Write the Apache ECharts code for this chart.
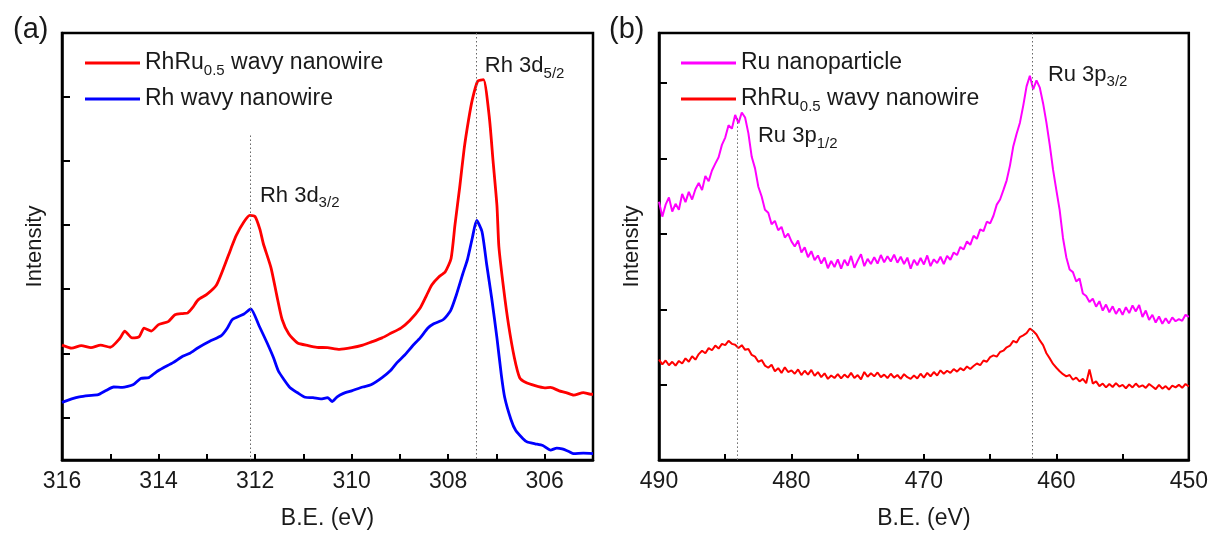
<!DOCTYPE html>
<html><head><meta charset="utf-8">
<script src="https://cdn.jsdelivr.net/npm/echarts@6/dist/echarts.min.js"></script>
<style>html,body{margin:0;padding:0;background:#fff}#c{width:1211px;height:535px}</style>
</head><body><div id="c"></div>
<script>
const FONT = '"Liberation Sans", Arial, Helvetica, sans-serif';
const TXT = '#1a1a1a';

// ---- Panel (a): Rh 3d ----
const xTicksA = [316, 314, 312, 310, 308, 306];
const energyRedA = [316.0,315.8,315.6,315.4,315.2,315.0,314.8,314.7,314.55,314.4,314.3,314.15,314.0,313.8,313.66,313.5,313.4,313.3,313.18,313.0,312.8,312.63,312.5,312.39,312.23,312.11,312.0,311.9,311.83,311.67,311.55,311.44,311.3,311.12,310.9,310.72,310.5,310.25,310.0,309.77,309.6,309.37,309.2,308.98,308.8,308.58,308.45,308.34,308.2,308.06,307.94,307.86,307.76,307.67,307.58,307.5,307.39,307.27,307.15,307.07,306.99,306.95,306.85,306.75,306.63,306.52,306.4,306.2,306.0,305.88,305.7,305.56,305.4,305.2,305.05,305.0];
const redA = [26.9,26.2,26.8,26.3,26.9,26.4,28.5,30.2,28.6,28.9,30.9,30.2,31.7,32.4,34.0,34.3,34.4,35.6,37.5,38.8,41.0,45.6,49.5,52.6,55.8,57.3,57.0,54.0,50.7,45.0,38.5,32.9,29.5,27.4,26.8,26.4,26.3,25.9,26.3,26.9,27.6,28.6,29.6,30.9,32.6,35.6,38.5,41.0,42.8,44.1,47.2,55.0,64.0,72.8,79.5,84.4,88.7,89.1,80.5,70.0,59.6,50.0,40.0,31.7,24.0,19.3,18.2,17.4,16.9,17.0,16.2,15.8,15.2,15.8,15.4,15.4];
const energyBlueA = [316.0,315.8,315.64,315.45,315.25,315.1,314.93,314.75,314.53,314.37,314.2,314.05,313.9,313.7,313.5,313.35,313.18,312.94,312.7,312.58,312.47,312.23,312.09,311.92,311.75,311.62,311.52,311.4,311.28,311.1,310.96,310.8,310.64,310.5,310.4,310.3,310.17,310.0,309.77,309.6,309.37,309.2,309.06,308.9,308.74,308.58,308.42,308.3,308.1,307.95,307.83,307.7,307.6,307.5,307.41,307.3,307.2,307.1,306.99,306.9,306.83,306.7,306.6,306.45,306.36,306.2,306.04,305.88,305.75,305.64,305.5,305.4,305.2,305.0];
const blueA = [13.5,14.3,14.8,15.1,15.3,16.2,17.1,17.0,17.6,19.1,19.3,20.6,21.6,22.8,24.3,25.0,26.3,27.8,29.1,30.8,32.9,34.2,35.4,31.5,27.4,24.0,20.9,18.8,17.0,15.6,14.7,14.6,14.3,14.6,13.7,14.8,15.6,16.2,17.1,17.6,19.3,20.9,22.8,24.6,26.7,28.6,30.9,31.9,32.9,35.0,38.7,43.5,47.0,52.0,56.1,53.5,45.6,38.0,28.6,20.0,14.7,9.5,6.9,5.0,4.2,3.8,3.4,2.3,2.8,2.6,2.0,1.5,1.6,1.5];
const yTicksA = [10, 25, 40, 55, 70, 85, 100];
const peakLinesA = [[312.11, 76], [307.41, 100]];

// ---- Panel (b): Ru 3p ----
const xTicksB = [490, 480, 470, 460, 450];
const energyStartB = 490, energyStepB = 0.25; // sampling grid of the spectra below
const magentaB = [60.5,57.0,59.8,61.5,58.2,60.0,58.6,62.3,60.4,62.8,61.0,63.4,64.9,63.2,66.5,65.3,67.8,69.4,70.9,73.8,75.5,78.4,77.6,80.8,78.9,81.4,80.2,76.5,71.0,68.3,64.0,61.7,58.6,57.9,55.2,56.0,53.8,54.6,52.1,53.0,51.2,50.0,51.4,48.6,49.8,47.5,48.9,46.8,47.9,46.0,47.4,44.9,46.6,45.2,47.0,44.8,46.9,45.5,47.8,45.0,46.7,48.2,45.4,47.1,45.9,47.5,46.0,48.0,46.3,47.7,46.5,48.1,46.2,47.6,45.9,47.4,44.8,46.9,45.6,47.3,45.8,47.9,45.4,47.0,46.1,47.6,45.9,47.8,46.9,48.6,48.0,49.9,49.3,51.2,50.4,52.5,51.8,54.0,53.6,55.8,55.4,57.2,59.8,61.0,63.2,65.5,69.0,73.5,76.4,79.0,83.0,87.5,90.0,86.8,88.9,87.2,83.5,79.0,73.8,68.0,63.2,58.5,52.0,47.5,44.6,44.0,41.8,42.5,39.0,38.4,37.0,37.8,35.9,37.2,35.0,36.4,34.6,36.0,34.2,35.5,34.0,35.8,34.4,36.2,34.8,36.3,33.5,35.0,32.8,34.0,32.2,33.6,31.9,33.2,32.0,33.4,32.5,33.0,32.6,34.0,33.5];
const redB = [23.5,22.4,23.3,22.2,23.0,22.1,23.2,22.6,23.8,23.0,24.3,23.5,24.8,25.6,25.0,26.2,25.7,26.8,26.1,27.2,26.9,27.9,27.2,27.0,26.2,26.9,25.8,26.0,24.6,24.2,23.0,23.4,22.1,21.6,22.3,20.8,21.5,20.4,21.7,20.6,21.0,20.2,21.2,19.9,20.9,20.0,21.1,19.7,20.6,19.4,20.3,19.0,19.8,19.2,20.1,19.1,20.0,19.3,20.4,19.2,19.9,18.9,20.6,19.5,20.3,19.6,20.5,19.4,20.0,19.2,20.2,19.3,19.9,19.0,20.1,19.4,19.0,19.8,19.1,20.2,19.3,20.4,19.6,20.6,19.8,21.0,20.2,20.9,20.4,21.3,20.7,21.5,21.0,21.9,21.3,22.0,22.6,22.2,23.3,23.0,24.1,24.5,24.2,25.3,25.6,26.4,26.8,27.9,27.5,28.8,29.2,29.7,30.8,30.2,29.4,28.0,26.9,25.0,23.8,22.5,21.6,20.8,20.1,19.6,19.9,18.8,19.3,18.4,19.0,18.0,21.2,17.9,18.4,17.3,17.9,17.0,17.8,17.1,18.0,17.2,17.6,16.8,17.7,17.0,17.9,17.1,17.5,16.9,17.8,17.2,16.6,17.6,16.7,17.3,16.5,17.4,17.0,17.6,16.9,17.8,17.2];
const yTicksB = [0, 17.7, 35.3, 53, 70.6, 88.3];
const peakLinesB = [[484.1, 80], [461.85, 100]];

const NAME_RR = 'RhRu0.5 wavy nanowire';
const NAME_RH = 'Rh wavy nanowire';
const NAME_RU = 'Ru nanoparticle';

function pairs(xs, ys) { return xs.map((x, i) => [x, ys[i]]); }
function gridPairs(start, step, ys) { return ys.map((y, i) => [+(start - step * i).toFixed(2), y]); }

const rich = {
  m: { fontSize: 23, fontFamily: FONT, color: TXT, lineHeight: 30, verticalAlign: 'middle' },
  s: { fontSize: 15, fontFamily: FONT, color: TXT, lineHeight: 15, verticalAlign: 'bottom' }
};
const annRich = {
  m: { fontSize: 22, fontFamily: FONT, color: TXT, lineHeight: 30, verticalAlign: 'middle' },
  s: { fontSize: 15, fontFamily: FONT, color: TXT, lineHeight: 15, verticalAlign: 'bottom' }
};
function legendFmt(name) {
  if (name === NAME_RR) return '{m|RhRu}{s|0.5}{m| wavy nanowire}';
  return '{m|' + name + '}';
}

function xAxisCfg(gi, min, max, interval, labelEvery) {
  return {
    type: 'value', gridIndex: gi, min: min, max: max, interval: interval, inverse: true,
    name: 'B.E. (eV)', nameLocation: 'middle', nameGap: 47,
    nameTextStyle: { fontSize: 23, fontFamily: FONT, color: TXT },
    axisLine: { onZero: false, lineStyle: { color: '#000', width: 2.5 } },
    axisTick: { inside: true, length: 6, lineStyle: { color: '#000', width: 2 } },
    axisLabel: { fontSize: 23, fontFamily: FONT, color: TXT, margin: 10,
      formatter: v => (Math.round(v) % labelEvery === 0 ? String(Math.round(v)) : '') },
    splitLine: { show: false }
  };
}
function yAxisCfg(gi, ticks) {
  return {
    type: 'value', gridIndex: gi, min: 0, max: 100,
    name: 'Intensity', nameLocation: 'middle', nameGap: 16,
    nameTextStyle: { fontSize: 22, fontFamily: FONT, color: TXT },
    axisLine: { show: true, lineStyle: { color: '#000', width: 2.5 } },
    axisTick: { show: true, inside: true, length: 8, customValues: ticks, lineStyle: { color: '#000', width: 2 } },
    axisLabel: { show: false },
    splitLine: { show: false }
  };
}
function peakLines(list) {
  return {
    silent: true, symbol: ['none', 'none'], label: { show: false },
    lineStyle: { type: [1.5, 2.5], color: '#666', width: 1 },
    emphasis: { disabled: true },
    data: list.map(p => [{ coord: [p[0], p[1]] }, { coord: [p[0], 0] }])
  };
}
function ann(x, y, main, sub) {
  return {
    coord: [x, y], symbol: 'circle', symbolSize: 0,
    label: { show: true, position: 'right', distance: 0, formatter: '{m|' + main + '}{s|' + sub + '}', rich: annRich }
  };
}

const option = {
  animation: false,
  backgroundColor: '#fff',
  title: [
    { text: '(a)', left: 8, top: 10, textStyle: { fontSize: 29, fontWeight: 'normal', fontFamily: FONT, color: TXT } },
    { text: '(b)', left: 604, top: 10, textStyle: { fontSize: 29, fontWeight: 'normal', fontFamily: FONT, color: TXT } }
  ],
  legend: [
    { orient: 'vertical', left: 80, top: 43, icon: 'rect', itemWidth: 55, itemHeight: 3, itemGap: 6,
      data: [NAME_RR, NAME_RH], formatter: legendFmt, selectedMode: false,
      textStyle: { fontSize: 23, fontFamily: FONT, color: TXT, lineHeight: 30, rich: rich } },
    { orient: 'vertical', left: 676, top: 43, icon: 'rect', itemWidth: 55, itemHeight: 3, itemGap: 6,
      data: [NAME_RU, NAME_RR], formatter: legendFmt, selectedMode: false,
      textStyle: { fontSize: 23, fontFamily: FONT, color: TXT, lineHeight: 30, rich: rich } }
  ],
  grid: [
    { left: 62, top: 33, width: 531, height: 430, show: true, borderColor: '#000', borderWidth: 2.5, backgroundColor: 'transparent' },
    { left: 659, top: 33, width: 530, height: 430, show: true, borderColor: '#000', borderWidth: 2.5, backgroundColor: 'transparent' }
  ],
  xAxis: [xAxisCfg(0, 305, 316, 1, 2), xAxisCfg(1, 450, 490, 5, 10)],
  yAxis: [yAxisCfg(0, yTicksA), yAxisCfg(1, yTicksB)],
  series: [
    { name: NAME_RR, type: 'line', xAxisIndex: 0, yAxisIndex: 0, showSymbol: false, smooth: 0.2,
      lineStyle: { color: '#ff0000', width: 2.8 }, itemStyle: { color: '#ff0000' },
      data: pairs(energyRedA, redA), markLine: peakLines(peakLinesA),
      markPoint: { silent: true, data: [ann(311.9, 61.9, 'Rh 3d', '3/2'), ann(307.24, 92.2, 'Rh 3d', '5/2')] } },
    { name: NAME_RH, type: 'line', xAxisIndex: 0, yAxisIndex: 0, showSymbol: false, smooth: 0.2,
      lineStyle: { color: '#0000ff', width: 2.8 }, itemStyle: { color: '#0000ff' },
      data: pairs(energyBlueA, blueA) },
    { name: NAME_RU, type: 'line', xAxisIndex: 1, yAxisIndex: 1, showSymbol: false,
      lineStyle: { color: '#ff00ff', width: 2 }, itemStyle: { color: '#ff00ff' },
      data: gridPairs(energyStartB, energyStepB, magentaB), markLine: peakLines(peakLinesB),
      markPoint: { silent: true, data: [ann(482.53, 75.8, 'Ru 3p', '1/2'), ann(460.64, 90.2, 'Ru 3p', '3/2')] } },
    { name: NAME_RR, type: 'line', xAxisIndex: 1, yAxisIndex: 1, showSymbol: false,
      lineStyle: { color: '#ff0000', width: 2 }, itemStyle: { color: '#ff0000' },
      data: gridPairs(energyStartB, energyStepB, redB) }
  ]
};
echarts.init(document.getElementById('c'), null, { renderer: 'canvas' }).setOption(option);
</script>
</body></html>
